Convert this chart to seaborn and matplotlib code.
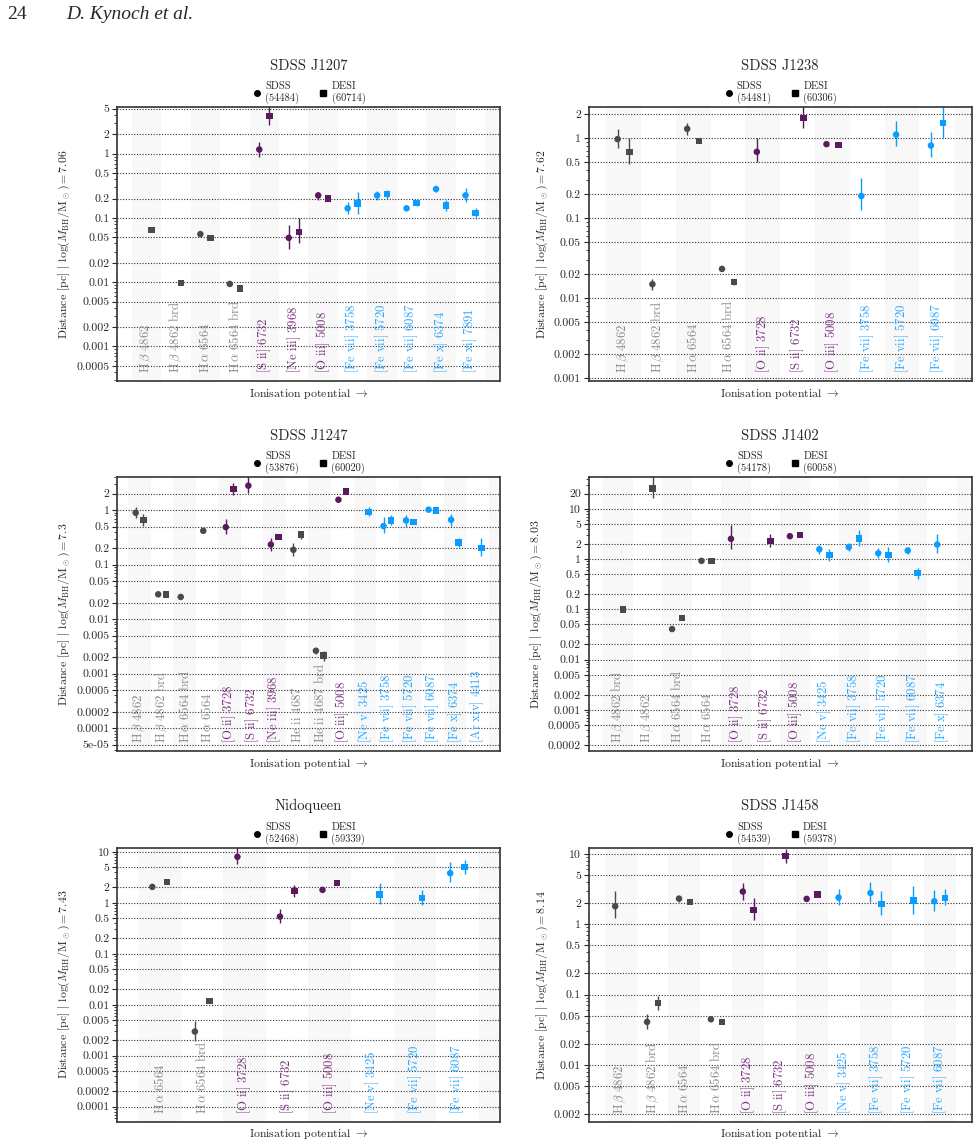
import numpy as np
import pandas as pd
import seaborn as sns
import matplotlib.pyplot as plt
from matplotlib import ticker, transforms
from matplotlib.lines import Line2D

nan = np.nan

# ---- SDSS J1207 ----
j1207_lines = [r"H\,\beta 4862", r"H\,\beta 4862 brd", r"H\,\alpha 6564", r"H\,\alpha 6564 brd",
               "[S ii] 6732", "[Ne iii] 3968", "[O iii] 5008", "[Fe vii] 3758", "[Fe vii] 5720",
               "[Fe vii] 6087", "[Fe x] 6374", "[Fe xi] 7891"]
j1207_sdss = [nan, nan, 0.056, 0.0094, 1.16, 0.049, 0.224, 0.141, 0.224, 0.141, 0.281, 0.224]
j1207_sdss_lo = [nan, nan, 0.054, 0.0090, 0.90, 0.033, 0.19, 0.115, 0.19, 0.133, 0.25, 0.18]
j1207_sdss_hi = [nan, nan, 0.058, 0.0098, 1.50, 0.077, 0.25, 0.174, 0.26, 0.150, 0.31, 0.29]
j1207_desi = [0.0647, 0.0098, 0.0485, 0.0080, 3.85, 0.060, 0.20, 0.168, 0.235, 0.170, 0.156, 0.119]
j1207_desi_lo = [0.062, 0.0093, 0.046, 0.0077, 2.80, 0.040, 0.19, 0.115, 0.20, 0.155, 0.127, 0.097]
j1207_desi_hi = [0.067, 0.0103, 0.051, 0.0083, 6.00, 0.099, 0.21, 0.25, 0.27, 0.185, 0.19, 0.145]

# ---- SDSS J1238 ----
j1238_lines = [r"H\,\beta 4862", r"H\,\beta 4862 brd", r"H\,\alpha 6564", r"H\,\alpha 6564 brd",
               "[O ii] 3728", "[S ii] 6732", "[O iii] 5008", "[Fe vii] 3758", "[Fe vii] 5720",
               "[Fe vii] 6087"]
j1238_sdss = [0.973, 0.015, 1.31, 0.0233, 0.676, nan, 0.843, 0.19, 1.11, 0.81]
j1238_sdss_lo = [0.745, 0.0127, 1.10, 0.0225, 0.50, nan, 0.82, 0.127, 0.80, 0.59]
j1238_sdss_hi = [1.30, 0.0176, 1.55, 0.0241, 1.00, nan, 0.87, 0.317, 1.65, 1.20]
j1238_desi = [0.67, nan, 0.929, 0.016, nan, 1.80, 0.818, nan, nan, 1.54]
j1238_desi_lo = [0.479, nan, 0.90, 0.0145, nan, 1.34, 0.80, nan, nan, 1.00]
j1238_desi_hi = [1.00, nan, 0.96, 0.0176, nan, 3.00, 0.84, nan, nan, 3.00]

# ---- SDSS J1247 ----
j1247_lines = [r"H\,\beta 4862", r"H\,\beta 4862 brd", r"H\,\alpha 6564 brd", r"H\,\alpha 6564",
               "[O ii] 3728", "[S ii] 6732", "[Ne iii] 3968", "He ii 4687", "He ii 4687 brd",
               "[O iii] 5008", "[Ne v] 3425", "[Fe vii] 3758", "[Fe vii] 5720", "[Fe vii] 6087",
               "[Fe x] 6374", "[Ar xiv] 4413"]
j1247_sdss = [0.895, 0.0286, 0.0256, 0.418, 0.488, 2.81, 0.234, 0.187, 0.00264, 1.55, nan, 0.509, 0.647, 1.02, 0.665, nan]
j1247_sdss_lo = [0.72, 0.0275, 0.0246, 0.40, 0.36, 2.06, 0.18, 0.147, 0.0023, 1.49, nan, 0.375, 0.49, 0.98, 0.51, nan]
j1247_sdss_hi = [1.15, 0.0297, 0.0266, 0.435, 0.70, 5.00, 0.31, 0.245, 0.0030, 1.61, nan, 0.75, 0.83, 1.06, 0.86, nan]
j1247_desi = [0.665, 0.0282, nan, nan, 2.44, nan, 0.324, 0.357, 0.00216, 2.18, 0.933, 0.647, 0.611, 0.975, 0.255, 0.203]
j1247_desi_lo = [0.52, 0.027, nan, nan, 1.90, nan, 0.31, 0.30, 0.0017, 2.10, 0.78, 0.53, 0.59, 0.94, 0.21, 0.142]
j1247_desi_hi = [0.86, 0.0294, nan, nan, 3.20, nan, 0.34, 0.42, 0.0026, 2.26, 1.15, 0.80, 0.63, 1.01, 0.31, 0.31]

# ---- SDSS J1402 ----
j1402_lines = [r"H\,\beta 4862 brd", r"H\,\beta 4862", r"H\,\alpha 6564 brd", r"H\,\alpha 6564",
               "[O ii] 3728", "[S ii] 6732", "[O iii] 5008", "[Ne v] 3425", "[Fe vii] 3758",
               "[Fe vii] 5720", "[Fe vii] 6087", "[Fe x] 6374"]
j1402_sdss = [nan, nan, 0.0406, 0.922, 2.53, nan, 2.86, 1.57, 1.73, 1.31, 1.48, 1.95]
j1402_sdss_lo = [nan, nan, 0.039, 0.89, 1.60, nan, 2.76, 1.27, 1.45, 1.05, 1.25, 1.32]
j1402_sdss_hi = [nan, nan, 0.042, 0.955, 4.67, nan, 2.96, 1.95, 2.05, 1.65, 1.75, 3.20]
j1402_desi = [0.100, 25.6, 0.0673, 0.922, nan, 2.27, 3.00, 1.20, 2.57, 1.21, 0.524, nan]
j1402_desi_lo = [0.096, 16.6, 0.064, 0.89, nan, 1.73, 2.90, 0.90, 1.80, 0.88, 0.41, nan]
j1402_desi_hi = [0.104, 60.0, 0.070, 0.955, nan, 3.20, 3.10, 1.60, 3.80, 1.75, 0.67, nan]

# ---- Nidoqueen ----
nido_lines = [r"H\,\alpha 6564", r"H\,\alpha 6564 brd", "[O ii] 3728", "[S ii] 6732",
              "[O iii] 5008", "[Ne v] 3425", "[Fe vii] 5720", "[Fe vii] 6087"]
nido_sdss = [2.05, 0.00298, 7.97, 0.536, 1.79, nan, nan, 3.81]
nido_sdss_lo = [1.98, 0.00195, 5.64, 0.40, 1.73, nan, nan, 2.53]
nido_sdss_hi = [2.12, 0.00483, 14.0, 0.76, 1.85, nan, nan, 6.36]
nido_desi = [2.53, 0.0119, nan, 1.69, 2.46, 1.45, 1.25, 5.00]
nido_desi_lo = [2.44, 0.0114, nan, 1.28, 2.38, 0.96, 0.89, 3.69]
nido_desi_hi = [2.62, 0.0124, nan, 2.28, 2.54, 2.46, 1.82, 7.06]

# ---- SDSS J1458 ----
j1458_lines = [r"H\,\beta 4862", r"H\,\beta 4862 brd", r"H\,\alpha 6564", r"H\,\alpha 6564 brd",
               "[O ii] 3728", "[S ii] 6732", "[O iii] 5008", "[Ne v] 3425", "[Fe vii] 3758",
               "[Fe vii] 5720", "[Fe vii] 6087"]
j1458_sdss = [1.80, 0.0409, 2.31, 0.0446, 2.91, nan, 2.29, 2.39, 2.78, nan, 2.12]
j1458_sdss_lo = [1.22, 0.0325, 2.10, 0.0430, 2.20, nan, 2.21, 1.86, 2.07, nan, 1.53]
j1458_sdss_hi = [2.94, 0.0527, 2.55, 0.0462, 3.90, nan, 2.37, 3.13, 3.95, nan, 3.07]
j1458_desi = [nan, 0.0755, 2.07, 0.0405, 1.59, 9.26, 2.66, nan, 1.94, 2.16, 2.36]
j1458_desi_lo = [nan, 0.060, 2.00, 0.0390, 1.15, 7.40, 2.57, nan, 1.33, 1.40, 1.86]
j1458_desi_hi = [nan, 0.097, 2.14, 0.0420, 2.36, 11.9, 2.75, nan, 2.94, 3.50, 3.13]

panels = [
    dict(name="SDSS J1207", mjd=("54484", "60714"), logm="7.06", lines=j1207_lines,
         sdss=(j1207_sdss, j1207_sdss_lo, j1207_sdss_hi), desi=(j1207_desi, j1207_desi_lo, j1207_desi_hi),
         ylim=(2.9e-4, 5.3)),
    dict(name="SDSS J1238", mjd=("54481", "60306"), logm="7.62", lines=j1238_lines,
         sdss=(j1238_sdss, j1238_sdss_lo, j1238_sdss_hi), desi=(j1238_desi, j1238_desi_lo, j1238_desi_hi),
         ylim=(9.26e-4, 2.45)),
    dict(name="SDSS J1247", mjd=("53876", "60020"), logm="7.3", lines=j1247_lines,
         sdss=(j1247_sdss, j1247_sdss_lo, j1247_sdss_hi), desi=(j1247_desi, j1247_desi_lo, j1247_desi_hi),
         ylim=(3.83e-5, 4.05)),
    dict(name="SDSS J1402", mjd=("54178", "60058"), logm="8.03", lines=j1402_lines,
         sdss=(j1402_sdss, j1402_sdss_lo, j1402_sdss_hi), desi=(j1402_desi, j1402_desi_lo, j1402_desi_hi),
         ylim=(1.52e-4, 43.0)),
    dict(name="Nidoqueen", mjd=("52468", "59339"), logm="7.43", lines=nido_lines,
         sdss=(nido_sdss, nido_sdss_lo, nido_sdss_hi), desi=(nido_desi, nido_desi_lo, nido_desi_hi),
         ylim=(5.07e-5, 12.0)),
    dict(name="SDSS J1458", mjd=("54539", "59378"), logm="8.14", lines=j1458_lines,
         sdss=(j1458_sdss, j1458_sdss_lo, j1458_sdss_hi), desi=(j1458_desi, j1458_desi_lo, j1458_desi_hi),
         ylim=(1.56e-3, 12.2)),
]

marker_col = {"H": "#4a4a4a", "low": "#5b1a5e", "high": "#0a9dff"}
label_col = {"H": "#8a8a8a", "low": "#7d3482", "high": "#2aa8ff"}


def group_of(label):
    if label.startswith("H"):
        return "H"
    if label.startswith(("[Ne v]", "[Fe", "[Ar")):
        return "high"
    return "low"


def as_math(label):
    # upright mathtext so the spacing stays the same in every label
    return r"$\mathrm{" + label.replace(" ", r"\ ") + "}$"


sns.set_style("white")
plt.rcParams["font.family"] = ["cmr10", "DejaVu Serif"]
plt.rcParams["mathtext.fontset"] = "cm"
plt.rcParams["axes.unicode_minus"] = False
plt.rcParams["axes.formatter.use_mathtext"] = True

fig = plt.figure(figsize=(9.79, 11.45), dpi=100)
fig.text(0.007, 0.987, "24", family="Liberation Serif", fontsize=14, va="center")
fig.text(0.068, 0.987, "D. Kynoch et al.", family="Liberation Serif", style="italic",
         fontsize=14, va="center")

lefts = [0.1195, 0.6013]
bottoms = [0.6672, 0.3441, 0.0203]
w, h = 0.3912, 0.2393

for k, p in enumerate(panels):
    ax = fig.add_axes([lefts[k % 2], bottoms[k // 2], w, h])
    lines = p["lines"]
    n = len(lines)
    groups = [group_of(l) for l in lines]

    # alternating column shading
    for i in range(-1, n + 1):
        if i % 2 == 0:
            ax.axvspan(i - 0.5, i + 0.5, color="#f8f8f8", lw=0, zorder=0)

    rows = []
    for survey, off, (v, lo, hi) in [("SDSS", -0.17, p["sdss"]), ("DESI", 0.17, p["desi"])]:
        for i in range(n):
            if not np.isnan(v[i]):
                rows.append(dict(x=i + off, y=v[i], lo=lo[i], hi=hi[i], survey=survey, group=groups[i]))
    df = pd.DataFrame(rows)

    ax.vlines(df["x"], df["lo"], df["hi"], colors=[marker_col[g] for g in df["group"]],
              lw=1.0, zorder=2.5)
    sns.scatterplot(data=df, x="x", y="y", hue="group", style="survey",
                    markers={"SDSS": "o", "DESI": "s"}, palette=marker_col, s=22,
                    linewidth=0, legend=False, ax=ax, zorder=3)

    ax.set_yscale("log")
    ax.set_ylim(*p["ylim"])
    ax.set_xlim(-1, n)

    lo_d, hi_d = int(np.floor(np.log10(p["ylim"][0]))), int(np.ceil(np.log10(p["ylim"][1])))
    ticks = [m * 10.0 ** d for d in range(lo_d, hi_d + 1) for m in (1, 2, 5)
             if p["ylim"][0] <= m * 10.0 ** d <= p["ylim"][1]]
    ax.yaxis.set_major_locator(ticker.FixedLocator(ticks))
    ax.yaxis.set_major_formatter(ticker.FuncFormatter(lambda v, pos: f"{v:g}"))
    ax.yaxis.set_minor_locator(ticker.LogLocator(base=10, subs=np.arange(2, 10), numticks=50))
    ax.yaxis.set_minor_formatter(ticker.NullFormatter())
    ax.tick_params(axis="y", which="major", left=True, length=3.5, width=0.8, labelsize=8.5, pad=2)
    ax.tick_params(axis="y", which="minor", left=True, length=2, width=0.6)
    ax.set_xticks([])

    ax.set_axisbelow(True)
    ax.grid(axis="y", which="major", ls=(0, (1, 1.5)), color="#333333", lw=0.8)
    for s in ax.spines.values():
        s.set_color("#333333")
        s.set_linewidth(1.2)

    trans = transforms.blended_transform_factory(ax.transData, ax.transAxes)
    for i, lab in enumerate(lines):
        ax.text(i, 0.028, as_math(lab), rotation=90, ha="center", va="bottom", transform=trans,
                fontsize=9.2, color=label_col[groups[i]], zorder=1)

    ax.set_xlabel(r"Ionisation potential $\rightarrow$", fontsize=8.5, labelpad=4)
    ax.set_ylabel(r"Distance [pc] $|$ $\log(M_{\rm BH}/{\rm M}_\odot) = " + p["logm"] + "$",
                  fontsize=8.5, labelpad=3)
    ax.set_title(p["name"], fontsize=10.5, pad=27)

    handles = [Line2D([], [], ls="", marker="o", color="black", markersize=4),
               Line2D([], [], ls="", marker="s", color="black", markersize=4.5)]
    ax.legend(handles, [f"SDSS\n({p['mjd'][0]})", f"DESI\n({p['mjd'][1]})"],
              loc="lower center", bbox_to_anchor=(0.5, 1.0), ncol=2, frameon=False,
              fontsize=7.5, handlelength=1.0, handletextpad=0.3, columnspacing=1.8,
              borderaxespad=0.1, borderpad=0.2)

fig.savefig("out.png", dpi=100)
